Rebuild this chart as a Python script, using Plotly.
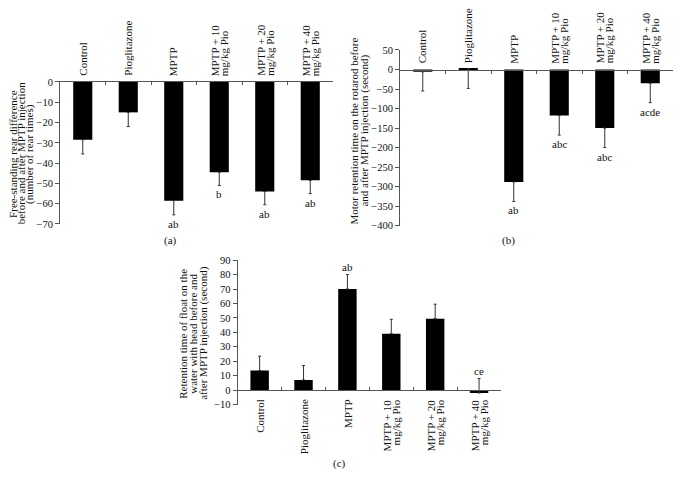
import plotly.graph_objects as go

W, H = 680, 491
FONT = "Liberation Serif"

# ---------------- data ----------------
categories = ["Control", "Pioglitazone", "MPTP", "MPTP + 10 mg/kg Pio",
              "MPTP + 20 mg/kg Pio", "MPTP + 40 mg/kg Pio"]
cat_lines = [["Control"], ["Pioglitazone"], ["MPTP"],
             ["MPTP + 10", "mg/kg Pio"], ["MPTP + 20", "mg/kg Pio"],
             ["MPTP + 40", "mg/kg Pio"]]

rear_values = [-28.5, -15, -58.5, -44.5, -54, -48.5]
rear_err = [7, 7, 7, 6.5, 6.5, 6.5]
rear_sig = ["", "", "ab", "b", "ab", "ab"]

rotarod_values = [-6, 1.5, -288, -118, -150, -35]
rotarod_err = [49, 50, 50, 50, 50, 50]
rotarod_sig = ["", "", "ab", "abc", "abc", "acde"]

float_values = [13.5, 7, 70, 39, 49.5, -2]
float_err = [10, 10, 10, 10, 10, 10]
float_sig = ["", "", "ab", "", "", "ce"]

title_a = ["Free-standing rear difference", "before and after MPTP injection",
           "(number of rear times)"]
title_b = ["Motor retention time on the rotarod before",
           "and after MPTP injection (second)"]
title_c = ["Retention time of float on the", "water with head before and",
           "after MPTP injection (second)"]

# ---------------- figure ----------------
def px_x(p):
    return p / W

def px_y(p):
    return 1 - p / H

fig = go.Figure()

def add_bars(vals, err, xa, ya, up):
    fig.add_trace(go.Bar(
        x=categories, y=vals, xaxis=xa, yaxis=ya, width=0.42,
        marker=dict(color="black", line=dict(width=0)),
        error_y=dict(type="data", symmetric=False,
                     array=err if up else [0] * len(err),
                     arrayminus=[0] * len(err) if up else err,
                     color="#333333", thickness=1, width=1.5),
        showlegend=False, hoverinfo="skip"))

add_bars(rear_values, rear_err, "x", "y", False)
add_bars(rotarod_values, rotarod_err, "x2", "y2", False)
add_bars(float_values, float_err, "x3", "y3", True)

axis_common = dict(showgrid=False, zeroline=False, showline=True,
                   linecolor="#555555", linewidth=1)
xcommon = dict(axis_common, type="category", range=[-0.5, 5.5],
               showticklabels=False, tickson="boundaries",
               ticks="inside", ticklen=3, tickcolor="#555555")
ycommon = dict(axis_common, ticks="outside", ticklen=4, tickcolor="#555555",
               tickfont=dict(family=FONT, size=10.5, color="#111111"))

fig.update_layout(
    width=W, height=H, margin=dict(l=0, r=0, t=0, b=0),
    paper_bgcolor="white", plot_bgcolor="white",
    font=dict(family=FONT, size=11, color="#111111"),
    xaxis=dict(xcommon, domain=[px_x(60), px_x(333)], anchor="y", side="top"),
    yaxis=dict(ycommon, domain=[px_y(224), px_y(78.7)], range=[-70, 0],
               dtick=10, anchor="x"),
    xaxis2=dict(xcommon, domain=[px_x(400), px_x(673)], anchor="free",
                position=px_y(66), side="top"),
    yaxis2=dict(ycommon, domain=[px_y(225.7), px_y(46)], range=[-400, 50],
                dtick=50, anchor="x2"),
    xaxis3=dict(xcommon, domain=[px_x(237.7), px_x(501)], anchor="free",
                position=px_y(394), side="bottom"),
    yaxis3=dict(ycommon, domain=[px_y(408.7), px_y(261)], range=[-10, 90],
                dtick=10, anchor="x3"),
)

ann = []

# category labels
def cat_labels(xref, yref, top):
    for c, lines in zip(categories, cat_lines):
        n = len(lines)
        shifts = [0] if n == 1 else [-4, 5]
        for line, s in zip(lines, shifts):
            ann.append(dict(x=c, y=0, xref=xref, yref=yref, text=line,
                            textangle=-90, showarrow=False,
                            xanchor="center",
                            yanchor="bottom" if top else "top",
                            xshift=s, yshift=4 if top else -7,
                            font=dict(size=11)))

cat_labels("x", "y", True)
cat_labels("x2", "y2", True)
cat_labels("x3", "y3", False)

# significance letters
def sig_labels(vals, err, sig, xref, yref, up):
    for c, v, e, s in zip(categories, vals, err, sig):
        if not s:
            continue
        ann.append(dict(x=c, y=(v + e) if up else (v - e), xref=xref,
                        yref=yref, text=s, showarrow=False,
                        xanchor="center",
                        yanchor="bottom" if up else "top",
                        yshift=0 if up else -1, font=dict(size=11)))

sig_labels(rear_values, rear_err, rear_sig, "x", "y", False)
sig_labels(rotarod_values, rotarod_err, rotarod_sig, "x2", "y2", False)
sig_labels(float_values, float_err, float_sig, "x3", "y3", True)

# y-axis titles (one annotation per line for tight leading)
def ytitle(lines, xs, yc):
    for line, xp in zip(lines, xs):
        ann.append(dict(x=px_x(xp), y=px_y(yc), xref="paper", yref="paper",
                        text=line, textangle=-90, showarrow=False,
                        xanchor="center", yanchor="middle",
                        font=dict(size=11)))

ytitle(title_a, [12.3, 20.7, 29.3], 152)
ytitle(title_b, [354.5, 364.5], 129)
ytitle(title_c, [183.3, 193.3, 203.3], 336)

# panel labels
for t, xp, yp in [("(a)", 170, 241), ("(b)", 508, 241), ("(c)", 339, 469)]:
    ann.append(dict(x=px_x(xp), y=px_y(yp), xref="paper", yref="paper",
                    text=t, showarrow=False, xanchor="center",
                    yanchor="middle", font=dict(size=11)))

fig.update_layout(annotations=ann)
fig.write_html("out.html",
               config={"displayModeBar": False},
               post_script="document.documentElement.style.margin='0';"
                           "document.documentElement.style.overflow='hidden';"
                           "document.body.style.margin='0';"
                           "document.body.style.height='491px';"
                           "document.body.style.overflow='hidden';")
